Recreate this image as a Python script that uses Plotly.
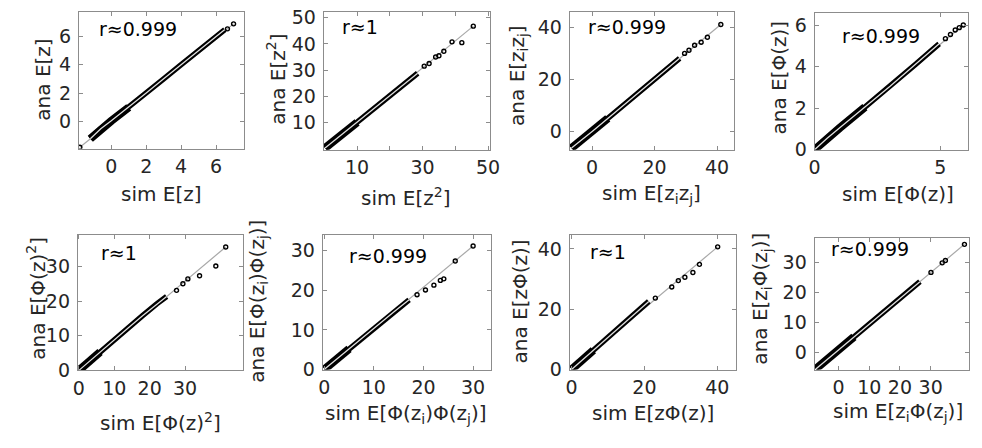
import plotly.graph_objects as go

W, H = 982, 448

# ---------------- data ----------------
# Panel 1: E[z]
ez_band_sim = [-1.2, -0.6, 0.0, 1.0, 2.0, 3.0, 4.0, 5.0, 6.0, 6.5]
ez_band_ana = [-1.2, -0.5, 0.05, 1.0, 2.0, 3.0, 4.0, 5.0, 6.0, 6.45]
ez_tail_sim = [-1.8, 6.65, 7.0]
ez_tail_ana = [-1.8, 6.5, 6.85]

# Panel 2: E[z^2]
ez2_band_sim = [0.2, 5, 10, 15, 20, 25, 28.5]
ez2_band_ana = [0.2, 5, 10, 15, 20, 25, 28.8]
ez2_tail_sim = [30.5, 32.0, 34.0, 35.0, 36.5, 39.0, 42.0, 45.5]
ez2_tail_ana = [31.5, 32.5, 35.0, 35.5, 37.2, 40.8, 40.5, 46.8]

# Panel 3: E[z_i z_j]
ezz_band_sim = [-6.6, -4.0, 0.0, 5, 10, 15, 20, 25, 28.0]
ezz_band_ana = [-6.4, -4.0, 0.0, 5, 10, 15, 20, 25, 28.1]
ezz_tail_sim = [29.6, 31.0, 32.8, 34.9, 36.9, 41.2]
ezz_tail_ana = [30.0, 31.2, 33.1, 34.3, 36.2, 41.1]

# Panel 4: E[Phi(z)]
ephi_band_sim = [0.02, 0.5, 1.0, 2.0, 3.0, 4.0, 4.95]
ephi_band_ana = [0.02, 0.55, 1.05, 2.05, 3.05, 4.1, 5.1]
ephi_tail_sim = [5.2, 5.4, 5.59, 5.75, 5.91]
ephi_tail_ana = [5.35, 5.55, 5.77, 5.88, 6.01]

# Panel 5: E[Phi(z)^2]
ephi2_band_sim = [0.1, 3, 6, 10, 14, 18, 22, 24.8]
ephi2_band_ana = [0.1, 2.7, 5.3, 8.8, 12.3, 15.8, 19.2, 21.3]
ephi2_tail_sim = [27.6, 29.4, 30.8, 34.1, 38.7, 41.5]
ephi2_tail_ana = [23.1, 25.0, 26.4, 27.3, 30.1, 35.6]

# Panel 6: E[Phi(z_i)Phi(z_j)]
epp_band_sim = [0.1, 2, 5, 8, 11, 14, 17.1]
epp_band_ana = [0.1, 2.1, 5.2, 8.3, 11.4, 14.5, 17.6]
epp_tail_sim = [18.7, 20.4, 22.1, 23.4, 24.1, 26.4, 30.0]
epp_tail_ana = [18.9, 20.1, 21.3, 22.5, 22.9, 27.4, 31.2]

# Panel 7: E[z Phi(z)]
ezp_band_sim = [0.1, 3, 6, 10, 14, 18, 21.2]
ezp_band_ana = [0.1, 3.2, 6.4, 10.6, 14.9, 19.2, 22.6]
ezp_tail_sim = [23.0, 27.5, 29.3, 31.1, 33.3, 35.1, 40.1]
ezp_tail_ana = [23.7, 27.4, 29.5, 30.6, 32.2, 34.9, 40.7]

# Panel 8: E[z_i Phi(z_j)]
ezpj_band_sim = [-7.4, -4.0, 0.0, 5, 10, 15, 20, 26.5]
ezpj_band_ana = [-5.6, -2.7, 0.8, 5.1, 9.4, 13.7, 18.0, 23.6]
ezpj_tail_sim = [30.1, 33.75, 34.8, 41.0]
ezpj_tail_ana = [26.7, 29.9, 30.7, 36.1]

r_labels = ["r≈0.999", "r≈1", "r≈0.999", "r≈0.999",
            "r≈1", "r≈0.999", "r≈1", "r≈0.999"]

x_titles = ["sim E[z]", "sim E[z<sup>2</sup>]", "sim E[z<sub>i</sub>z<sub>j</sub>]",
            "sim E[Φ(z)]", "sim E[Φ(z)<sup>2</sup>]",
            "sim E[Φ(z<sub>i</sub>)Φ(z<sub>j</sub>)]", "sim E[zΦ(z)]",
            "sim E[z<sub>i</sub>Φ(z<sub>j</sub>)]"]
y_titles = [t.replace("sim", "ana") for t in x_titles]

x_tickvals = [[0, 2, 4, 6], [10, 20, 30, 40, 50], [0, 20, 40], [0, 5],
              [0, 10, 20, 30], [0, 10, 20, 30], [0, 20, 40], [0, 10, 20, 30]]
x_ticktext = [["0", "2", "4", "6"], ["10", "", "30", "", "50"], ["0", "20", "40"], ["0", "5"],
              ["0", "10", "20", "30"], ["0", "10", "20", "30"], ["0", "20", "40"],
              ["0", "10", "20", "30"]]
y_tickvals = [[0, 2, 4, 6], [10, 20, 30, 40, 50], [0, 20, 40], [0, 2, 4, 6],
              [0, 10, 20, 30], [0, 10, 20, 30], [0, 20, 40], [0, 10, 20, 30]]

panels = [
    (ez_band_sim, ez_band_ana, ez_tail_sim, ez_tail_ana),
    (ez2_band_sim, ez2_band_ana, ez2_tail_sim, ez2_tail_ana),
    (ezz_band_sim, ezz_band_ana, ezz_tail_sim, ezz_tail_ana),
    (ephi_band_sim, ephi_band_ana, ephi_tail_sim, ephi_tail_ana),
    (ephi2_band_sim, ephi2_band_ana, ephi2_tail_sim, ephi2_tail_ana),
    (epp_band_sim, epp_band_ana, epp_tail_sim, epp_tail_ana),
    (ezp_band_sim, ezp_band_ana, ezp_tail_sim, ezp_tail_ana),
    (ezpj_band_sim, ezpj_band_ana, ezpj_tail_sim, ezpj_tail_ana),
]

# ---------------- layout / style ----------------
boxes = [(74, 242, 7, 149), (323, 492, 7, 150), (573, 740, 7, 150), (822, 978, 8, 150),
         (73, 241, 238, 379), (322, 493, 238, 378), (573, 742, 238, 378), (822, 979, 242, 378)]
x_ranges = [[-1.86, 7.6], [-0.2, 50.6], [-7.2, 45.4], [0, 6.1],
            [-0.3, 46.4], [-0.3, 33.6], [-0.5, 45.1], [-7.8, 42.5]]
y_ranges = [[-1.9, 7.7], [-0.4, 52.3], [-7.0, 46], [0, 6.6],
            [0, 39.2], [0, 34.1], [0, 44.8], [-5.8, 38.1]]
thick_n = [3, 2, 3, 3, 2, 2, 2, 3]
r_pos = [(92, 25), (340, 23), (590, 23), (848, 32), (95, 257), (347, 260), (592, 256), (837, 253)]
xt_pos = [(158, 196), (407, 199), (656, 196), (907, 196), (157, 432), (407, 424), (658, 423), (907, 422)]
yt_pos = [(38, 77), (275, 77), (521, 73), (786, 75), (31, 304), (256, 307), (523, 307), (768, 304)]

FONT = "DejaVu Sans"
TXT = "#262626"
AXC = "#8c8c8c"

fig = go.Figure()
annotations = []
for i, (bs, ba, ts, ta) in enumerate(panels):
    k = "" if i == 0 else str(i + 1)
    xa, ya = "x" + k, "y" + k
    all_s = bs + ts
    all_a = ba + ta
    lo = all_s.index(min(all_s))
    hi = all_s.index(max(all_s))
    fig.add_trace(go.Scatter(x=[all_s[lo], all_s[hi]], y=[all_a[lo], all_a[hi]], mode="lines",
                             line=dict(color="#a8a8a8", width=1.2), xaxis=xa, yaxis=ya,
                             showlegend=False, hoverinfo="skip"))
    n = thick_n[i]
    fig.add_trace(go.Scatter(x=bs[:n + 1], y=ba[:n + 1], mode="lines",
                             line=dict(color="black", width=8), xaxis=xa, yaxis=ya,
                             showlegend=False))
    fig.add_trace(go.Scatter(x=bs, y=ba, mode="lines",
                             line=dict(color="black", width=5.5), xaxis=xa, yaxis=ya,
                             showlegend=False))
    fig.add_trace(go.Scatter(x=bs, y=ba, mode="lines",
                             line=dict(color="#e0e0e0", width=1.3), xaxis=xa, yaxis=ya,
                             showlegend=False))
    fig.add_trace(go.Scatter(x=ts, y=ta, mode="markers",
                             marker=dict(symbol="circle-open", size=4, color="black",
                                         line=dict(width=1.4, color="black")),
                             xaxis=xa, yaxis=ya, showlegend=False))

    L, R, T, B = boxes[i]
    axis_common = dict(showgrid=False, zeroline=False, showline=True, mirror="ticks",
                       linecolor=AXC, linewidth=1, ticks="inside", ticklen=4,
                       tickcolor=AXC, tickwidth=1,
                       tickfont=dict(family=FONT, size=19, color=TXT))
    fig.layout["xaxis" + k] = dict(domain=[L / W, R / W], range=x_ranges[i], anchor=ya,
                                   tickvals=x_tickvals[i], ticktext=x_ticktext[i],
                                   ticklabelstandoff=1, **axis_common)
    fig.layout["yaxis" + k] = dict(domain=[1 - B / H, 1 - T / H], range=y_ranges[i], anchor=xa,
                                   tickvals=y_tickvals[i], ticklabelstandoff=3, **axis_common)

    annotations.append(dict(text=r_labels[i], x=r_pos[i][0] / W, y=1 - r_pos[i][1] / H,
                            xref="paper", yref="paper", xanchor="left", yanchor="middle",
                            showarrow=False, font=dict(family=FONT, size=19, color="black")))
    annotations.append(dict(text=x_titles[i], x=xt_pos[i][0] / W, y=1 - xt_pos[i][1] / H,
                            xref="paper", yref="paper", xanchor="center", yanchor="middle",
                            showarrow=False, font=dict(family=FONT, size=20, color=TXT)))
    annotations.append(dict(text=y_titles[i], x=yt_pos[i][0] / W, y=1 - yt_pos[i][1] / H,
                            xref="paper", yref="paper", xanchor="center", yanchor="middle",
                            textangle=-90,
                            showarrow=False, font=dict(family=FONT, size=20, color=TXT)))

fig.update_layout(width=W, height=H, margin=dict(l=0, r=0, t=0, b=0),
                  paper_bgcolor="white", plot_bgcolor="white",
                  annotations=annotations, font=dict(family=FONT))
fig.write_html("out.html", config={"displayModeBar": False},
               post_script="document.body.style.margin='0';document.body.style.overflow='hidden';")
